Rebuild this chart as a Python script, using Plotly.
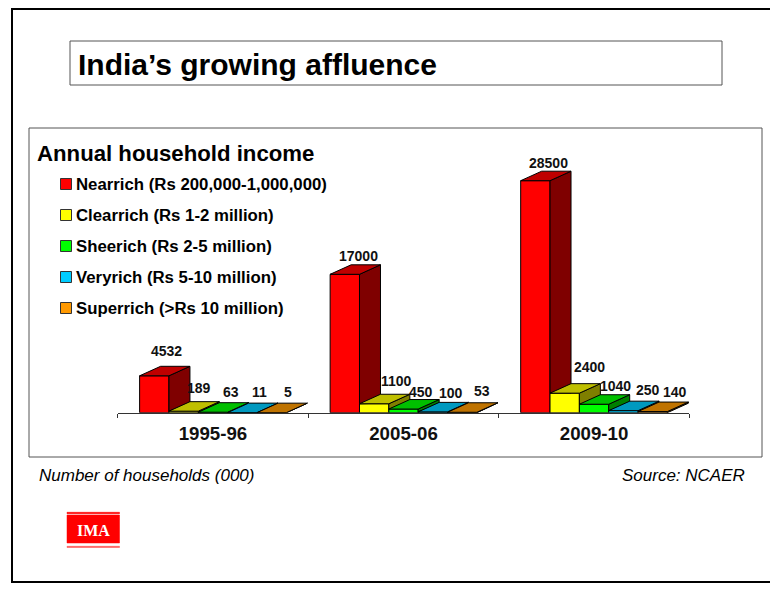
import plotly.graph_objects as go

# Household counts in thousands, by income band
periods = ["1995-96", "2005-06", "2009-10"]
series_names = [
    "Nearrich (Rs 200,000-1,000,000)",
    "Clearrich (Rs 1-2 million)",
    "Sheerich (Rs 2-5 million)",
    "Veryrich (Rs 5-10 million)",
    "Superrich (>Rs 10 million)",
]
nearrich = [4532, 17000, 28500]
clearrich = [189, 1100, 2400]
sheerich = [63, 450, 1040]
veryrich = [11, 100, 250]
superrich = [5, 53, 140]
series_values = [nearrich, clearrich, sheerich, veryrich, superrich]

front_colors = ["#FF0000", "#FFFF00", "#00FF00", "#00CCFF", "#FF9900"]
top_colors = ["#BF0000", "#BFBF00", "#00BF00", "#0099BF", "#BF7300"]
side_colors = ["#7F0000", "#7F7F00", "#007F00", "#00667F", "#7F4C00"]

W, H = 770, 610
X0, X1 = 117.7, 689.3      # pixel extent of the category axis
Y_BASE, Y_TOP = 412.7, 150  # pixel extent of the value axis
Y_MAX = 32270
BAR_GAP = 0.23
DEPTH_X_PX, DEPTH_Y_PX = 21, 9.5

px_per_x = (X1 - X0) / 3
px_per_y = (Y_BASE - Y_TOP) / Y_MAX
depth_x = DEPTH_X_PX / px_per_x
depth_y = DEPTH_Y_PX / px_per_y
bar_w = (1 - BAR_GAP) / len(series_values)


def fx(px):
    return px / W


def fy(py):
    return 1 - py / H


fig = go.Figure()

# Front faces are ordinary grouped bars
for name, vals, col in zip(series_names, series_values, front_colors):
    fig.add_trace(go.Bar(
        x=[0, 1, 2], y=vals, name=name, marker=dict(color=col, line=dict(color="black", width=1)),
        showlegend=False, hoverinfo="x+y",
    ))


def add_face(xs, ys, color):
    fig.add_trace(go.Scatter(
        x=xs + xs[:1], y=ys + ys[:1], mode="lines", fill="toself", fillcolor=color,
        line=dict(color="black", width=1), showlegend=False, hoverinfo="skip", cliponaxis=False,
    ))


# Depth faces, worked out from each bar's value; left to right so nearer faces overlap
for g in range(len(periods)):
    for i, vals in enumerate(series_values):
        h = vals[g]
        left = g - 0.5 + BAR_GAP / 2 + i * bar_w
        right = left + bar_w
        next_h = series_values[i + 1][g] if i + 1 < len(series_values) else 0
        # The neighbouring front face hides the lower part of the side face
        low_front = min(next_h, h)
        low_back = max(depth_y, low_front)
        add_face([right, right + depth_x, right + depth_x, right],
                 [low_front, low_back, h + depth_y, h], side_colors[i])
        add_face([left, right, right + depth_x, left + depth_x],
                 [h, h, h + depth_y, h + depth_y], top_colors[i])

# Value labels above each column, nudged clear of the taller neighbours
label_dx = [[3, 6, 9, 7.5, 7], [4, 13, 8, 9, 10], [4, 15, 12, 15, 13]]
label_dy = [[5, 4, 1, 1, 1], [-1, 3, -2, -1, 2], [-2, 7, -1, 1, 0]]
annotations = []
for g in range(len(periods)):
    for i, vals in enumerate(series_values):
        h = vals[g]
        left = g - 0.5 + BAR_GAP / 2 + i * bar_w
        annotations.append(dict(
            x=left + bar_w / 2 + depth_x / 2, y=h + depth_y, xref="x", yref="y", text=f"<b>{h}</b>",
            showarrow=False, yanchor="bottom", xshift=label_dx[g][i] - 1, yshift=label_dy[g][i],
            font=dict(family="Liberation Sans", size=14, color="#111"),
        ))


def text(px, py, s, size, anchor="left", bold=True, italic=False, color="black", family="Liberation Sans"):
    if bold:
        s = f"<b>{s}</b>"
    if italic:
        s = f"<i>{s}</i>"
    annotations.append(dict(
        x=fx(px), y=fy(py), xref="paper", yref="paper", text=s, showarrow=False,
        xanchor=anchor, yanchor="middle", font=dict(family=family, size=size, color=color),
    ))


def box(x0, y0, x1, y1, line="black", width=1, fill=None):
    return dict(type="rect", xref="paper", yref="paper", x0=fx(x0), x1=fx(x1), y0=fy(y0), y1=fy(y1),
                line=dict(color=line, width=width), fillcolor=fill, layer="below")


shapes = [
    box(12, 9, 800, 582, width=2),
    box(70, 41, 722, 85, line="#555555"),
    box(29, 128, 762, 457, line="#555555"),
    box(67, 515, 119.5, 543, line="#FF0000", width=0.5, fill="#FF0000"),
    box(67, 512.3, 119.5, 513.7, line="#FF0000", width=0.5, fill="#FF0000"),
    box(67, 546.3, 119.5, 547.5, line="#FF5050", width=0.5, fill="#FF5050"),
]

text(76, 64, "India’s growing affluence", 30)
text(35, 153, "Annual household income", 22.2)
for i, (name, col) in enumerate(zip(series_names, front_colors)):
    y = 184 + i * 31
    shapes.append(box(60.5, y - 5.5, 71.5, y + 5.5, line="#333333", fill=col))
    text(74, y + 0.4, name, 16.8)
text(37, 475, "Number of households (000)", 17, bold=False, italic=True)
text(747, 475, "Source: NCAER", 17, anchor="right", bold=False, italic=True)
text(93, 530.5, "IMA", 16, anchor="center", color="white", family="Liberation Serif")

fig.update_layout(
    width=W, height=H, margin=dict(l=0, r=0, t=0, b=0),
    paper_bgcolor="white", plot_bgcolor="rgba(0,0,0,0)",
    barmode="group", bargap=BAR_GAP, bargroupgap=0, showlegend=False,
    xaxis=dict(
        domain=[fx(X0), fx(X1)], range=[-0.5, 2.5], showgrid=False, zeroline=False,
        showline=True, linecolor="#333333", linewidth=1,
        tickmode="array", tickvals=[0, 1, 2], ticktext=[f"<b>{p}</b>" for p in periods],
        ticks="", ticklabelstandoff=4,
        tickfont=dict(family="Liberation Sans", size=18.7, color="#111"),
        minor=dict(tickmode="array", tickvals=[-0.5, 0.5, 1.5, 2.5], ticks="outside", ticklen=4,
                   tickcolor="#333333", showgrid=False),
    ),
    yaxis=dict(domain=[fy(Y_BASE), fy(Y_TOP)], range=[0, Y_MAX], visible=False),
    shapes=shapes, annotations=annotations,
)
fig.write_html("out.html")
